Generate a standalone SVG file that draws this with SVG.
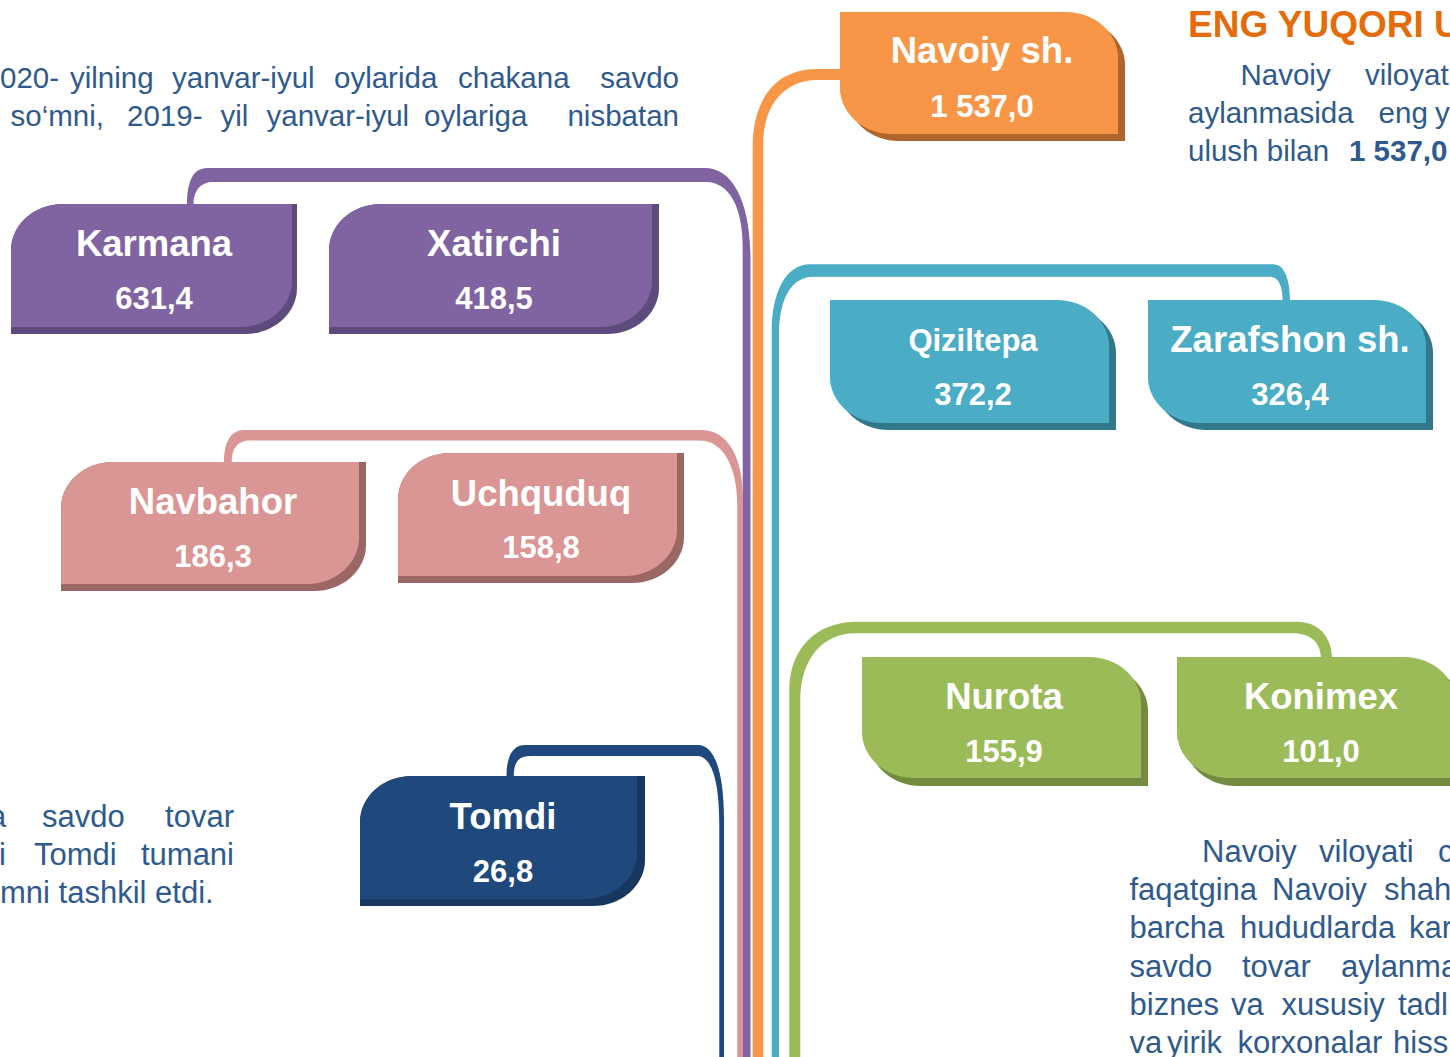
<svg xmlns="http://www.w3.org/2000/svg" width="1450" height="1057" viewBox="0 0 1450 1057">
<style>
.body{font-family:"Liberation Sans",Arial,sans-serif;font-size:29.5px;fill:#2F5A8E}
.body31{font-family:"Liberation Sans",Arial,sans-serif;font-size:31px;fill:#2F5A8E}
.b{font-weight:bold}
.title{font-family:"Liberation Sans",Arial,sans-serif;font-size:37px;font-weight:bold;fill:#E46C0A}
.nm{font-family:"Liberation Sans",Arial,sans-serif;font-size:36.5px;font-weight:bold;fill:#FFFFFF;text-anchor:middle}
.nms{font-family:"Liberation Sans",Arial,sans-serif;font-size:31px;font-weight:bold;fill:#FFFFFF;text-anchor:middle}
.num{font-family:"Liberation Sans",Arial,sans-serif;font-size:31px;font-weight:bold;fill:#FFFFFF;text-anchor:middle}
.end{text-anchor:end}
</style>
<rect width="1450" height="1057" fill="#FFFFFF"/>

<g id="connectors">
  <path id="c-purple" fill="#8064A2" d="M187,204 C187,182 193,168 207,168 H705 C732,168 750.5,200 750.5,260 V1057 H742.7 V247 C742.7,205 728,182 706,182 H213 C201,182 193.5,190 193.5,204 Z"/>
  <path id="c-pink" fill="#D99694" d="M224,462 C224,442 231,430 244,430 H701 C727,430 743,455 743,500 V1057 H737.3 V505 C737.3,465 722,440.5 700,440.5 H250 C238,440.5 231.7,448 231.7,462 Z"/>
  <path id="c-navy" fill="#1F497D" d="M506.5,776 C506.5,756 513,745 525,745 H698 C714,745 724,770 724,820 V1057 H719.3 V825 C719.3,776 710,756 697,756 H530 C518,756 513.8,763 513.8,776 Z"/>
  <path id="c-orange" fill="#F79646" d="M845,69 H817 C775,69 752.7,100 752.7,147 V1057 H763.3 V143 C763.3,105 785,80 817,80 H845 Z"/>
  <path id="c-blue" fill="#4BACC6" d="M1290,302 C1290,280 1285,264.3 1273,264.3 H810 C786,264.3 771.7,292 771.7,332 V1057 H779 V335 C779,298 792,276.7 813,276.7 H1270 C1278,276.7 1282.7,285 1282.7,302 Z"/>
  <path id="c-green" fill="#9BBB59" d="M1332,659 C1332,636 1318,621.7 1297,621.7 H857 C815,621.7 789.3,650 789.3,690 V1057 H800.3 V700 C800.3,660 822,633.3 855,633.3 H1293 C1310,633.3 1321,642 1321,659 Z"/>
</g>

<g id="node-karmana">
  <path fill="#5E4B7D" d="M11,250 A52,46 0 0 1 63,204 H297 V288 A52,46 0 0 1 245,334 H11 Z"/>
  <path fill="#8064A2" d="M11,250 A52,46 0 0 1 63,204 H292 V281 A52,46 0 0 1 240,327 H11 Z"/>
  <text class="nm" x="154" y="256">Karmana</text>
  <text class="num" x="154" y="309">631,4</text>
</g>
<g id="node-xatirchi">
  <path fill="#5E4B7D" d="M329,250 A52,46 0 0 1 381,204 H659 V288 A52,46 0 0 1 607,334 H329 Z"/>
  <path fill="#8064A2" d="M329,250 A52,46 0 0 1 381,204 H652 V281 A52,46 0 0 1 600,327 H329 Z"/>
  <text class="nm" x="494" y="256">Xatirchi</text>
  <text class="num" x="494" y="309">418,5</text>
</g>
<g id="node-navbahor">
  <path fill="#9B6765" d="M61,508 A52,46 0 0 1 113,462 H366 V545 A52,46 0 0 1 314,591 H61 Z"/>
  <path fill="#D99694" d="M61,508 A52,46 0 0 1 113,462 H359 V538 A52,46 0 0 1 307,584 H61 Z"/>
  <text class="nm" x="213" y="514">Navbahor</text>
  <text class="num" x="213" y="567">186,3</text>
</g>
<g id="node-uchquduq">
  <path fill="#9B6765" d="M398,499 A52,46 0 0 1 450,453 H684 V537 A52,46 0 0 1 632,583 H398 Z"/>
  <path fill="#D99694" d="M398,499 A52,46 0 0 1 450,453 H677 V530 A52,46 0 0 1 625,576 H398 Z"/>
  <text class="nm" x="541" y="506">Uchquduq</text>
  <text class="num" x="541" y="558">158,8</text>
</g>
<g id="node-tomdi">
  <path fill="#17375E" d="M360,822 A52,46 0 0 1 412,776 H645 V860 A52,46 0 0 1 593,906 H360 Z"/>
  <path fill="#1F497D" d="M360,822 A52,46 0 0 1 412,776 H637 V853 A52,46 0 0 1 585,899 H360 Z"/>
  <text class="nm" x="503" y="829">Tomdi</text>
  <text class="num" x="503" y="882">26,8</text>
</g>
<g id="node-navoiy">
  <path fill="#B0652C" transform="translate(7,7)" d="M840,12 H1066 A52,46 0 0 1 1118,58 V134 H892 A52,46 0 0 1 840,88 Z"/>
  <path fill="#F79646" d="M840,12 H1066 A52,46 0 0 1 1118,58 V134 H892 A52,46 0 0 1 840,88 Z"/>
  <text class="nm" x="982" y="63">Navoiy sh.</text>
  <text class="num" x="982" y="117">1 537,0</text>
</g>
<g id="node-qiziltepa">
  <path fill="#31788B" transform="translate(7,7)" d="M830,300 H1057 A52,46 0 0 1 1109,346 V423 H882 A52,46 0 0 1 830,377 Z"/>
  <path fill="#4BACC6" d="M830,300 H1057 A52,46 0 0 1 1109,346 V423 H882 A52,46 0 0 1 830,377 Z"/>
  <text class="nms" x="973" y="351">Qiziltepa</text>
  <text class="num" x="973" y="405">372,2</text>
</g>
<g id="node-zarafshon">
  <path fill="#31788B" transform="translate(7,7)" d="M1148,300 H1374 A52,46 0 0 1 1426,346 V423 H1200 A52,46 0 0 1 1148,377 Z"/>
  <path fill="#4BACC6" d="M1148,300 H1374 A52,46 0 0 1 1426,346 V423 H1200 A52,46 0 0 1 1148,377 Z"/>
  <text class="nm" x="1290" y="352">Zarafshon sh.</text>
  <text class="num" x="1290" y="405">326,4</text>
</g>
<g id="node-nurota">
  <path fill="#738B3F" transform="translate(7,8)" d="M862,657 H1089 A52,46 0 0 1 1141,703 V778 H914 A52,46 0 0 1 862,732 Z"/>
  <path fill="#9BBB59" d="M862,657 H1089 A52,46 0 0 1 1141,703 V778 H914 A52,46 0 0 1 862,732 Z"/>
  <text class="nm" x="1004" y="709">Nurota</text>
  <text class="num" x="1004" y="762">155,9</text>
</g>
<g id="node-konimex">
  <path fill="#738B3F" transform="translate(7,8)" d="M1177,657 H1404 A52,46 0 0 1 1456,703 V778 H1229 A52,46 0 0 1 1177,732 Z"/>
  <path fill="#9BBB59" d="M1177,657 H1404 A52,46 0 0 1 1456,703 V778 H1229 A52,46 0 0 1 1177,732 Z"/>
  <text class="nm" x="1321" y="709">Konimex</text>
  <text class="num" x="1321" y="762">101,0</text>
</g>

<g id="text-top-left" class="body">
  <text y="88"><tspan x="0">020-</tspan><tspan x="70">yilning</tspan><tspan x="172">yanvar-iyul</tspan><tspan x="334">oylarida</tspan><tspan x="458">chakana</tspan><tspan x="679" class="end">savdo</tspan></text>
  <text y="126"><tspan x="10.5">so‘mni,</tspan><tspan x="127">2019-</tspan><tspan x="220.5">yil</tspan><tspan x="266.5">yanvar-iyul</tspan><tspan x="424">oylariga</tspan><tspan x="679" class="end">nisbatan</tspan></text>
</g>
<g id="text-bottom-left" class="body31">
  <text y="827"><tspan x="-11">a</tspan><tspan x="42">savdo</tspan><tspan x="234" class="end">tovar</tspan></text>
  <text y="865"><tspan x="-1">i</tspan><tspan x="34">Tomdi</tspan><tspan x="234" class="end">tumani</tspan></text>
  <text y="903" x="0">mni tashkil etdi.</text>
</g>
<g id="text-top-right">
  <text class="title" x="1188" y="37">ENG YUQORI U</text>
  <g class="body">
    <text y="85"><tspan x="1240.5">Navoiy</tspan><tspan x="1365">viloyat</tspan></text>
    <text y="123"><tspan x="1188">aylanmasida</tspan><tspan x="1378.6">eng</tspan><tspan x="1435">y</tspan></text>
    <text y="161"><tspan x="1188">ulush bilan</tspan><tspan x="1349" class="b">1 537,0</tspan></text>
  </g>
</g>
<g id="text-bottom-right" class="body31">
  <text y="862"><tspan x="1202">Navoiy</tspan><tspan x="1319">viloyati</tspan><tspan x="1438">c</tspan></text>
  <text y="900"><tspan x="1129.5">faqatgina</tspan><tspan x="1272">Navoiy</tspan><tspan x="1384">shah</tspan></text>
  <text y="938"><tspan x="1129.5">barcha</tspan><tspan x="1240">hududlarda</tspan><tspan x="1409">kar</tspan></text>
  <text y="977"><tspan x="1129.5">savdo</tspan><tspan x="1242">tovar</tspan><tspan x="1341">aylanma</tspan></text>
  <text y="1015"><tspan x="1129.5">biznes</tspan><tspan x="1231">va</tspan><tspan x="1281.5">xususiy</tspan><tspan x="1398">tadl</tspan></text>
  <text y="1053"><tspan x="1129.5">va</tspan><tspan x="1167">yirik</tspan><tspan x="1237.5">korxonalar</tspan><tspan x="1393">hiss</tspan></text>
</g>
</svg>
